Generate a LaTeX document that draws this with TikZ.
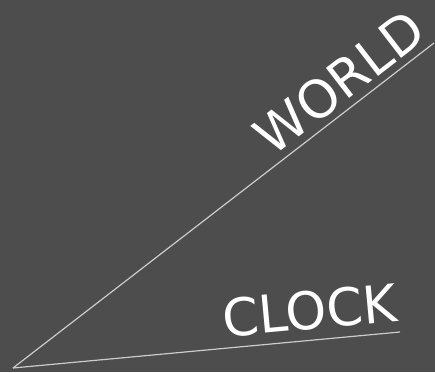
\documentclass[tikz,border=0pt]{standalone}
\usepackage{fontspec}
\setmainfont{DejaVu Sans}
\usepackage{tikz}
\usetikzlibrary{calc}
\definecolor{bggray}{RGB}{77, 77, 77}
\definecolor{linegray}{RGB}{204, 204, 204}

\begin{document}
\begin{tikzpicture}[x=1pt, y=1pt,
    wordtxt/.style={text=white, inner sep=0pt, font=\fontsize{52}{52}\selectfont},
    ray/.style={draw=linegray, line width=1.2pt}
]
    \fill[bggray] (0,0) rectangle (435,372);
    \useasboundingbox (0,0) rectangle (435,372);

    \coordinate (o) at (13,4);
    \coordinate (w) at (434,329);
    \coordinate (c) at (400,40);

    \node[wordtxt, rotate=37.67, anchor=base east] (world) at (429,335) {WORLD};
    \node[wordtxt, rotate=5.31, anchor=base east] (clock) at (399,51) {CLOCK};

    \draw[ray] (o) -- (w);
    \draw[ray] (o) -- (c);
\end{tikzpicture}
\end{document}
